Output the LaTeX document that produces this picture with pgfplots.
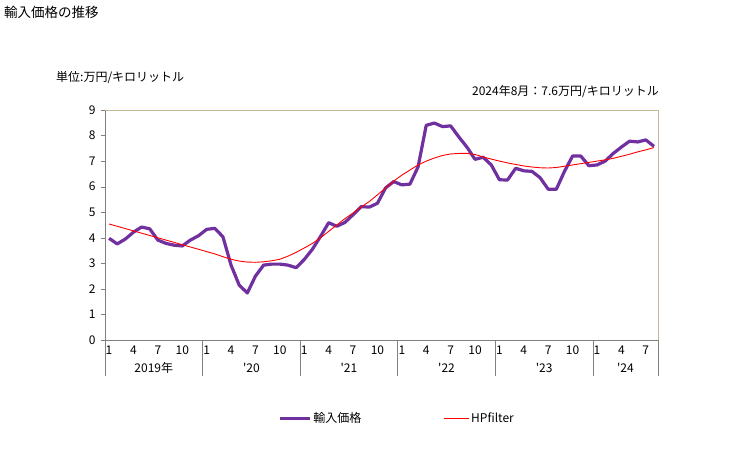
\documentclass[border=0pt]{standalone}
\usepackage{pgfplots}
\usepackage{pgfplotstable}
\pgfplotsset{compat=1.18}
\usepackage{fontspec}
\setmainfont{Noto Sans CJK JP}
\definecolor{ppl}{HTML}{7030A0}
\definecolor{beige}{HTML}{C4B896}
\pgfplotsset{
  legA/.style={legend image code/.code={\draw[##1] (0pt,0pt) -- (30pt,0pt);}},
  legB/.style={legend image code/.code={\draw[##1] (0pt,0pt) -- (25pt,0pt);}},
}
\pgfplotstableread{
i p h
0 3.98 4.54
1 3.76 4.45
2 3.95 4.36
3 4.22 4.27
4 4.42 4.18
5 4.35 4.09
6 3.91 4.00
7 3.78 3.91
8 3.71 3.82
9 3.68 3.73
10 3.91 3.64
11 4.08 3.55
12 4.33 3.46
13 4.37 3.37
14 4.04 3.26
15 2.93 3.16
16 2.15 3.09
17 1.84 3.05
18 2.50 3.04
19 2.93 3.06
20 2.97 3.10
21 2.97 3.16
22 2.93 3.28
23 2.83 3.43
24 3.15 3.60
25 3.55 3.78
26 4.05 4.00
27 4.59 4.25
28 4.45 4.50
29 4.60 4.75
30 4.90 4.97
31 5.22 5.20
32 5.20 5.42
33 5.35 5.68
34 5.95 5.95
35 6.20 6.22
36 6.07 6.45
37 6.10 6.65
38 6.78 6.85
39 8.40 7.00
40 8.49 7.12
41 8.35 7.22
42 8.38 7.28
43 7.95 7.30
44 7.55 7.30
45 7.07 7.26
46 7.15 7.16
47 6.85 7.08
48 6.27 7.00
49 6.26 6.93
50 6.72 6.87
51 6.62 6.81
52 6.60 6.77
53 6.35 6.74
54 5.90 6.73
55 5.90 6.75
56 6.60 6.80
57 7.20 6.85
58 7.20 6.90
59 6.82 6.95
60 6.85 7.00
61 7.00 7.05
62 7.30 7.11
63 7.55 7.19
64 7.78 7.27
65 7.75 7.36
66 7.83 7.44
67 7.58 7.53
}\data
\begin{document}
\begin{tikzpicture}
\path[use as bounding box] (0pt,0pt) rectangle (729pt,-450pt);
\node[anchor=west,inner sep=0pt,font=\fontsize{13.5}{13.5}\selectfont] at (4pt,-12pt) {輸入価格の推移};
\node[anchor=west,inner sep=0pt,font=\fontsize{12}{12}\selectfont] at (56pt,-78pt) {単位:万円/キロリットル};
\node[anchor=east,inner sep=0pt,font=\fontsize{12}{12}\selectfont] at (659pt,-92pt) {2024年8月：7.6万円/キロリットル};
\begin{axis}[
  at={(105pt,-340pt)}, anchor=south west,
  scale only axis, width=553pt, height=230pt,
  xmin=0, xmax=68, ymin=0, ymax=9,
  axis lines=left,
  axis line style={-, draw=gray, line width=0.8pt},
  ytick={0,1,...,9},
  ytick style={draw=gray},
  tick align=outside,
  major tick length=4pt,
  /pgf/number format/assume math mode=true,
  ticklabel style={font=\fontsize{12}{12}\selectfont},
  yticklabel style={xshift=-2pt},
  xtick={0.5,3.5,6.5,9.5,12.5,15.5,18.5,21.5,24.5,27.5,30.5,33.5,36.5,39.5,42.5,45.5,48.5,51.5,54.5,57.5,60.5,63.5,66.5},
  xticklabels={1,4,7,10,1,4,7,10,1,4,7,10,1,4,7,10,1,4,7,10,1,4,7},
  xtick style={draw=none},
  xticklabel style={yshift=2pt},
  clip=false,
  legend style={at={(0.528,-0.34)}, anchor=center, draw=none, fill=none, legend columns=2,
    font=\fontsize{12}{12}\selectfont,
    /tikz/every even column/.append style={column sep=80pt}},
  legend cell align=left,
]
\draw[beige, line width=0.8pt] (rel axis cs:0,1) -- (rel axis cs:1,1) -- (rel axis cs:1,0);
\draw[gray, line width=0.8pt] (axis cs:0,0) -- ++(0pt,-36pt);
\draw[gray, line width=0.8pt] (axis cs:12,0) -- ++(0pt,-36pt);
\draw[gray, line width=0.8pt] (axis cs:24,0) -- ++(0pt,-36pt);
\draw[gray, line width=0.8pt] (axis cs:36,0) -- ++(0pt,-36pt);
\draw[gray, line width=0.8pt] (axis cs:48,0) -- ++(0pt,-36pt);
\draw[gray, line width=0.8pt] (axis cs:60,0) -- ++(0pt,-36pt);
\draw[gray, line width=0.8pt] (axis cs:68,0) -- ++(0pt,-36pt);
\addplot[ppl, line width=3.2pt, line join=round, legA]
  table[x expr=\thisrow{i}+0.5, y=p] {\data};
\addlegendentry{輸入価格}
\addplot[red, line width=0.9pt, legB]
  table[x expr=\thisrow{i}+0.5, y=h] {\data};
\addlegendentry{HPfilter}
\node[font=\fontsize{12}{12}\selectfont] at (axis cs:6,0) [yshift=-28pt] {2019年};
\node[font=\fontsize{12}{12}\selectfont] at (axis cs:18,0) [yshift=-28pt] {\textquotesingle 20};
\node[font=\fontsize{12}{12}\selectfont] at (axis cs:30,0) [yshift=-28pt] {\textquotesingle 21};
\node[font=\fontsize{12}{12}\selectfont] at (axis cs:42,0) [yshift=-28pt] {\textquotesingle 22};
\node[font=\fontsize{12}{12}\selectfont] at (axis cs:54,0) [yshift=-28pt] {\textquotesingle 23};
\node[font=\fontsize{12}{12}\selectfont] at (axis cs:64,0) [yshift=-28pt] {\textquotesingle 24};
\end{axis}
\end{tikzpicture}
\end{document}
